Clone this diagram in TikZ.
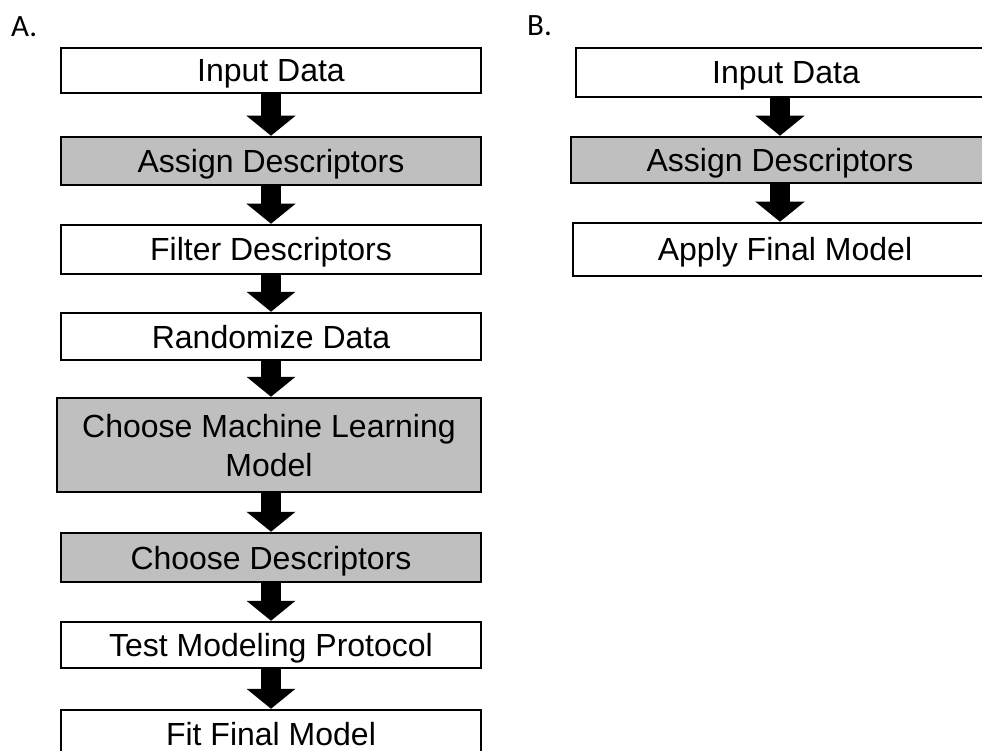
\documentclass[tikz,border=0pt]{standalone}
\usepackage{fontspec}
\setmainfont{Liberation Sans}
\newfontfamily\labelfont{Carlito}
\usetikzlibrary{arrows.meta}
\definecolor{boxgray}{HTML}{BFBFBF}
\begin{document}
\begin{tikzpicture}[x=1pt,y=-1pt,
  flowbox/.style={draw=black, line width=2.5pt, fill=white, inner sep=0pt,
     font=\fontsize{32}{39}\selectfont, align=center, text height=23pt, text depth=0pt},
  graybox/.style={flowbox, fill=boxgray},
  bigarrow/.style={draw=black, line width=20pt, -{Triangle[width=48pt,length=20pt]}},
  panellabel/.style={font=\labelfont\fontsize{31}{34}\selectfont, anchor=base west, inner sep=0pt}]
\useasboundingbox (0,0) rectangle (982,751);
\clip (0,0) rectangle (982,751);
% Panel labels
\node[panellabel] (labA) at (11,37) {A.};
\node[panellabel] (labB) at (527,36) {B.};
% Panel A
\node[flowbox, minimum width=420pt, minimum height=45pt] (inA) at (271,70.5) {Input Data};
\node[graybox, minimum width=420pt, minimum height=48pt] (asA) at (271,161) {Assign Descriptors};
\node[flowbox, minimum width=420pt, minimum height=49pt] (fiA) at (271,249.5) {Filter Descriptors};
\node[flowbox, minimum width=420pt, minimum height=47pt] (raA) at (271,336.5) {Randomize Data};
\node[graybox, minimum width=424pt, minimum height=94pt, text height=62pt] (mlA) at (269,445) {Choose Machine Learning\\Model};
\node[graybox, minimum width=420pt, minimum height=49pt] (cdA) at (271,557.5) {Choose Descriptors};
\node[flowbox, minimum width=420pt, minimum height=46pt] (teA) at (271,645) {Test Modeling Protocol};
\node[flowbox, minimum width=420pt, minimum height=48pt] (ftA) at (271,734) {Fit Final Model};
\draw[bigarrow] (inA.south) -- (asA.north);
\draw[bigarrow] (asA.south) -- (fiA.north);
\draw[bigarrow] (fiA.south) -- (raA.north);
\draw[bigarrow] (raA.south) -- (raA.south |- mlA.north);
\draw[bigarrow] (mlA.south -| cdA.north) -- (cdA.north);
\draw[bigarrow] (cdA.south) -- (teA.north);
\draw[bigarrow] (teA.south) -- (ftA.north);
% Panel B
\node[flowbox, minimum width=420pt, minimum height=49pt] (inB) at (786,72.5) {Input Data};
\node[graybox, minimum width=418pt, minimum height=46pt] (asB) at (780,160) {Assign Descriptors};
\node[flowbox, minimum width=424pt, minimum height=53pt] (apB) at (785,249.5) {Apply Final Model};
\draw[bigarrow] (inB.south -| asB.north) -- (asB.north);
\draw[bigarrow] (asB.south) -- (asB.south |- apB.north);
\end{tikzpicture}
\end{document}
